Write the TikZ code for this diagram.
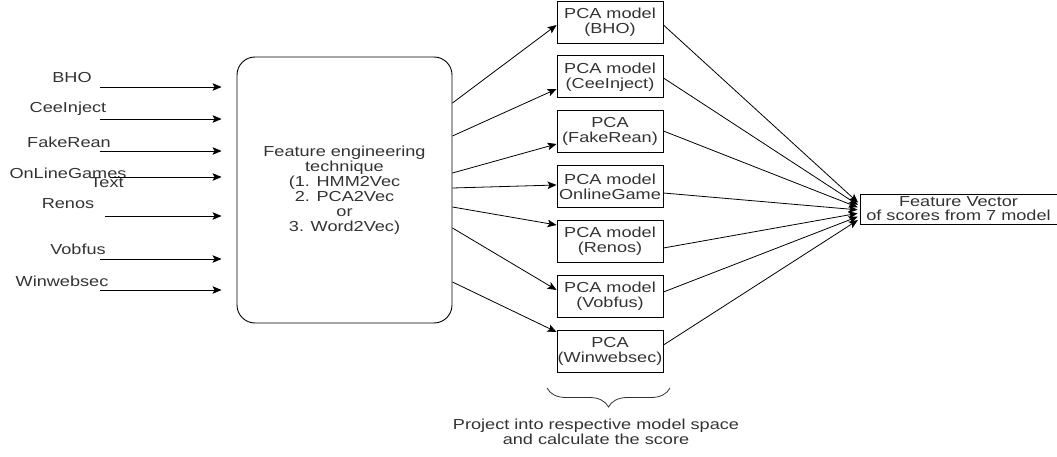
\documentclass[tikz,border=0pt]{standalone}
\usepackage{fontspec}
\setmainfont{Liberation Sans}[FakeStretch=1.25]
\usepackage{tikz}
\usetikzlibrary{arrows.meta,positioning,decorations.pathreplacing}
\definecolor{inkgray}{HTML}{333333}

\begin{document}
\begin{tikzpicture}[x=1pt,y=-1pt,
 txt/.style={font=\fontsize{14.5}{15}\selectfont,text=inkgray,align=center,inner sep=0pt},
 fe/.style={draw,rounded corners=18pt,line width=0.9pt,minimum width=215pt,minimum height=266pt,txt},
 box/.style={draw,line width=0.9pt,minimum width=106pt,minimum height=42pt,txt},
 arr/.style={-{Stealth[length=9pt,width=7.5pt,inset=2pt]},line width=0.8pt}
]
\useasboundingbox (0,0) rectangle (1057,457);
% feature engineering block
\node[fe] (fe) at (344.5,190) {Feature engineering\\technique\\(1. HMM2Vec\\2. PCA2Vec\\or\\3. Word2Vec)};
% malware families in
\node[txt] (lbho) at (72,78) {BHO};
\node[txt] (lcee) at (68,109) {CeeInject};
\node[txt] (lfake) at (69,142) {FakeRean};
\node[txt] (lgames) at (68,173) {OnLineGames};
\node[txt] (ltext) at (107,183) {Text};
\node[txt] (lrenos) at (68,204) {Renos};
\node[txt] (lvob) at (78,249) {Vobfus};
\node[txt] (lwin) at (62,281) {Winwebsec};
\coordinate (ibho) at (100,87);
\coordinate (icee) at (100,119);
\coordinate (ifake) at (100,151);
\coordinate (igames) at (110,177);
\coordinate (irenos) at (105,216);
\coordinate (ivob) at (100,259);
\coordinate (iwin) at (100,290);
\draw[arr,shorten >=15pt] (ibho) -- (fe.west |- ibho);
\draw[arr,shorten >=15pt] (icee) -- (fe.west |- icee);
\draw[arr,shorten >=15pt] (ifake) -- (fe.west |- ifake);
\draw[arr,shorten >=15pt] (igames) -- (fe.west |- igames);
\draw[arr,shorten >=15pt] (irenos) -- (fe.west |- irenos);
\draw[arr,shorten >=15pt] (ivob) -- (fe.west |- ivob);
\draw[arr,shorten >=15pt] (iwin) -- (fe.west |- iwin);
% one PCA model per family
\node[box] (mbho) at (610,22) {PCA model\\(BHO)};
\node[box,below=12pt of mbho] (mcee) {PCA model\\(CeeInject)};
\node[box,below=12pt of mcee] (mfake) {PCA\\(FakeRean)};
\node[box,below=12pt of mfake] (mgames) {PCA model\\OnlineGame};
\node[box,below=12pt of mgames] (mrenos) {PCA model\\(Renos)};
\node[box,below=12pt of mrenos] (mvob) {PCA model\\(Vobfus)};
\node[box,below=12pt of mvob] (mwin) {PCA\\(Winwebsec)};
\draw[arr] (fe.east |- 0,103) -- (mbho.west |- 0,25);
\draw[arr] (fe.east |- 0,136) -- (mcee.west |- 0,89);
\draw[arr] (fe.east |- 0,173) -- (mfake.west |- 0,144);
\draw[arr] (fe.east |- 0,188) -- (mgames.west |- 0,185);
\draw[arr] (fe.east |- 0,207) -- (mrenos.west |- 0,225);
\draw[arr] (fe.east |- 0,228) -- (mvob.west |- 0,290);
\draw[arr] (fe.east |- 0,282) -- (mwin.west |- 0,332);
% score vector
\node[box,minimum width=197pt,minimum height=30pt,font=\fontsize{14.5}{14}\selectfont] (fv) at (958.5,209) {Feature Vector\\of scores from 7 model};
\draw[arr,shorten >=2pt] (mbho.east |- 0,25) -- (fv.west |- 0,204);
\draw[arr,shorten >=2pt] (mcee.east |- 0,78) -- (fv.west |- 0,206);
\draw[arr,shorten >=2pt] (mfake.east |- 0,131) -- (fv.west |- 0,208);
\draw[arr,shorten >=2pt] (mgames.east |- 0,193) -- (fv.west |- 0,210);
\draw[arr,shorten >=2pt] (mrenos.east |- 0,248) -- (fv.west |- 0,213);
\draw[arr,shorten >=2pt] (mvob.east |- 0,292) -- (fv.west |- 0,216);
\draw[arr,shorten >=2pt] (mwin.east |- 0,345) -- (fv.west |- 0,219);
% brace + note
\coordinate (bra) at (670,388);
\coordinate (brb) at (547,388);
\draw[decorate,decoration={brace,amplitude=19pt},line width=0.8pt,draw=inkgray] (bra) -- (brb);
\node[txt] (proj) at (596,432) {Project into respective model space\\and calculate the score};
\end{tikzpicture}
\end{document}
